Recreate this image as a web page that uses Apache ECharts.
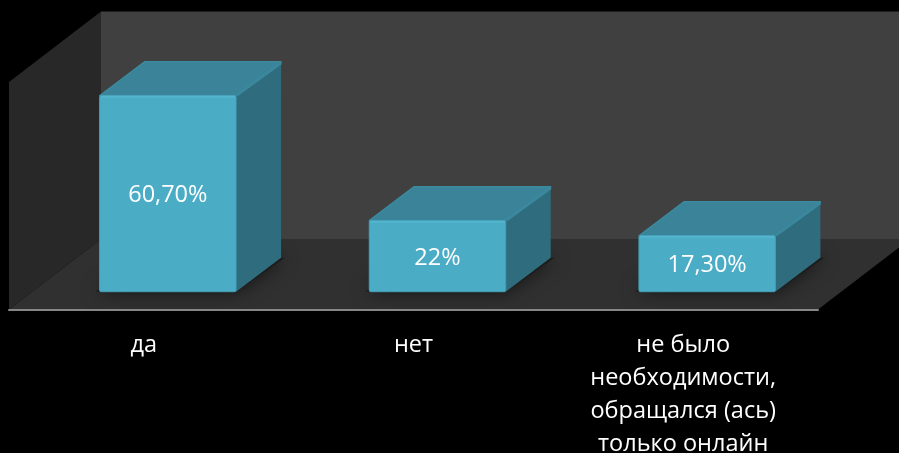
<!DOCTYPE html>
<html>
<head>
<meta charset="utf-8">
<style>html,body{margin:0;padding:0;background:#000}#c{width:899px;height:453px}</style>
<script src="https://cdn.jsdelivr.net/npm/echarts@6/dist/echarts.min.js"></script>
</head>
<body>
<div id="c"></div>
<script>
const categories = ['да', 'нет', 'не было\nнеобходимости,\nобращался (ась)\nтолько онлайн'];
const values = [60.7, 22, 17.3];
const valueLabels = ['60,70%', '22%', '17,30%'];
const axisMax = 70.5;

const chart = echarts.init(document.getElementById('c'), null, {renderer: 'canvas'});

// 3D projection constants
const WALL_DX = 92, WALL_DY = -70.5;
const FRONT_DX = 24, FRONT_DY = -17.8;
const BAR_DX = 45, BAR_DY = -34;
const BAR_FRACTION = 0.506;

function poly(points, style, extra) {
  return Object.assign({type: 'polygon', shape: {points}, style, silent: true}, extra || {});
}

function renderFrame(params, api) {
  const band = api.size([1, 0])[0];
  const xL = api.coord([0, 0])[0] - band / 2;
  const xR = api.coord([2, 0])[0] + band / 2;
  const yB = api.coord([0, 0])[1];
  const yT = api.coord([0, axisMax])[1];
  return {
    type: 'group',
    children: [
      poly([[xL + WALL_DX, yT + WALL_DY], [xR + WALL_DX, yT + WALL_DY], [xR + WALL_DX, yB + WALL_DY], [xL + WALL_DX, yB + WALL_DY]], {fill: '#404040'}),
      poly([[xL, yT], [xL + WALL_DX, yT + WALL_DY], [xL + WALL_DX, yB + WALL_DY], [xL, yB]], {fill: '#282828'}),
      poly([[xL, yB], [xL + WALL_DX, yB + WALL_DY], [xR + WALL_DX, yB + WALL_DY], [xR, yB]], {fill: '#303030'})
    ]
  };
}

function renderBar(params, api) {
  const i = api.value(0);
  const v = api.value(1);
  const top = api.coord([i, v]);
  const base = api.coord([i, 0]);
  const w = api.size([1, 0])[0] * BAR_FRACTION;
  const l = top[0] + FRONT_DX - w / 2, r = l + w;
  const t = top[1] + FRONT_DY, b = base[1] + FRONT_DY;
  const dx = BAR_DX, dy = BAR_DY;
  return {
    type: 'group',
    children: [
      poly([[l - 4, b], [r, b], [r + dx + 4, b + dy], [l + dx, b + dy]], {fill: '#1c1c1c', shadowBlur: 18, shadowColor: 'rgba(0,0,0,0.6)'}),
      poly([[r, t], [r + dx, t + dy], [r + dx, b + dy], [r, b]], {fill: '#2f6c7e'}),
      poly([[l, t], [l + dx, t + dy], [r + dx, t + dy], [r, t]], {
        fill: '#3a8398', stroke: '#3c8a9f', lineWidth: 1.5, lineJoin: 'round'
      }),
      {type: 'line', silent: true, shape: {x1: r + 1, y1: t - 1, x2: r + dx, y2: t + dy + 1},
        style: {stroke: '#3b889e', lineWidth: 3}},
      {type: 'rect', silent: true, shape: {x: l, y: t, width: w, height: b - t, r: 1.5},
        style: {fill: '#4bacc6', stroke: '#45a0b9', lineWidth: 1}},
      {type: 'line', silent: true, shape: {x1: l + 1, y1: t + 1, x2: r - 1, y2: t + 1},
        style: {stroke: '#53b4cd', lineWidth: 2}},
      {type: 'text', silent: true, style: {
        x: (l + r) / 2, y: (t + b) / 2 + 2, text: valueLabels[i],
        fill: '#ffffff', font: '23.5px "Open Sans", sans-serif', align: 'center', verticalAlign: 'middle'
      }}
    ]
  };
}

chart.setOption({
  animation: false,
  backgroundColor: '#000000',
  grid: {left: 9, width: 809, top: 82, height: 227.5, containLabel: false, outerBoundsMode: 'none'},
  xAxis: {
    type: 'category',
    data: categories,
    z: 5,
    axisLine: {show: true, lineStyle: {color: '#868686', width: 2}},
    axisTick: {show: false},
    axisLabel: {
      color: '#ffffff', fontSize: 23.5, fontFamily: '"Open Sans", sans-serif',
      lineHeight: 33.2, margin: 19, interval: 0, verticalAlign: 'top', hideOverlap: false
    }
  },
  yAxis: {type: 'value', min: 0, max: axisMax, show: false, splitLine: {show: false}},
  series: [
    {type: 'custom', coordinateSystem: 'cartesian2d', clip: false, z: 1, renderItem: renderFrame, data: [[0, 0]], encode: {x: 0, y: 1}},
    {type: 'custom', coordinateSystem: 'cartesian2d', clip: false, z: 2, renderItem: renderBar,
     data: values.map((v, i) => [i, v]), encode: {x: 0, y: 1}}
  ]
});
</script>
</body>
</html>
